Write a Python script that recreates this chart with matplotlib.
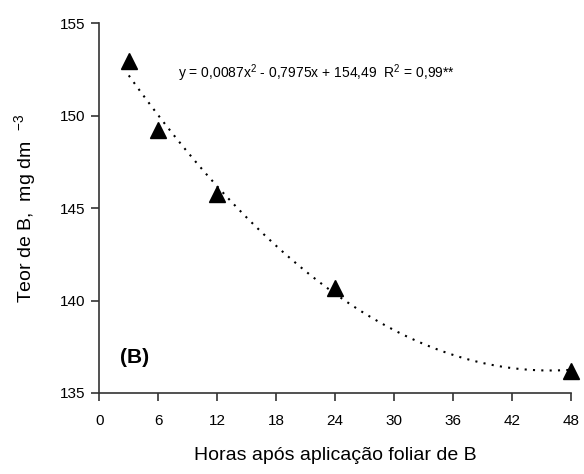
import matplotlib.pyplot as plt
import numpy as np

plt.rcParams['font.family'] = ['Liberation Sans', 'DejaVu Sans']
plt.rcParams['mathtext.fontset'] = 'custom'
plt.rcParams['mathtext.rm'] = 'Liberation Sans'
plt.rcParams['mathtext.it'] = 'Liberation Sans'

# data
horas = [3, 6, 12, 24, 48]
teor_b = [152.95, 149.25, 145.75, 140.7, 136.2]
# trend line coefficients (from the equation on the chart)
coef = [0.0087, -0.7975, 154.49]
xticks = [0, 6, 12, 18, 24, 30, 36, 42, 48]
yticks = [135, 140, 145, 150, 155]

fig = plt.figure(figsize=(5.84, 4.74), dpi=100)
ax = fig.add_axes([0.170, 0.171, 0.808, 0.780])

xs = np.linspace(horas[0], horas[-1], 200)
ax.plot(xs, np.polyval(coef, xs), color='black', linestyle=(0, (1, 3)), linewidth=1.5)
ax.plot(horas, teor_b, linestyle='none', marker='^', markersize=12, color='black', clip_on=False)

ax.set_xlim(0, 48)
ax.set_ylim(135, 155)
ax.set_xticks(xticks)
ax.set_yticks(yticks)
ax.spines['top'].set_visible(False)
ax.spines['right'].set_visible(False)
for s in ['left', 'bottom']:
    ax.spines[s].set_color('#333333')
    ax.spines[s].set_linewidth(1.2)
ax.tick_params(direction='out', length=6, width=1.2, color='#333333', labelsize=11)
ax.tick_params(axis='x', pad=9)
ax.tick_params(axis='y', pad=4)

ax.set_xlabel('Horas após aplicação foliar de B', fontsize=14, labelpad=14)
ax.set_ylabel(r'Teor de B,  mg dm  $^{-3}$', fontsize=14, labelpad=16)

ax.text(8.0, 152.3, r'y = 0,0087x$^2$ - 0,7975x + 154,49  R$^2$ = 0,99**', fontsize=10, va='center')
ax.text(2.1, 136.9, '(B)', fontsize=15, fontweight='bold', va='center')

fig.savefig('out.png', dpi=100)
